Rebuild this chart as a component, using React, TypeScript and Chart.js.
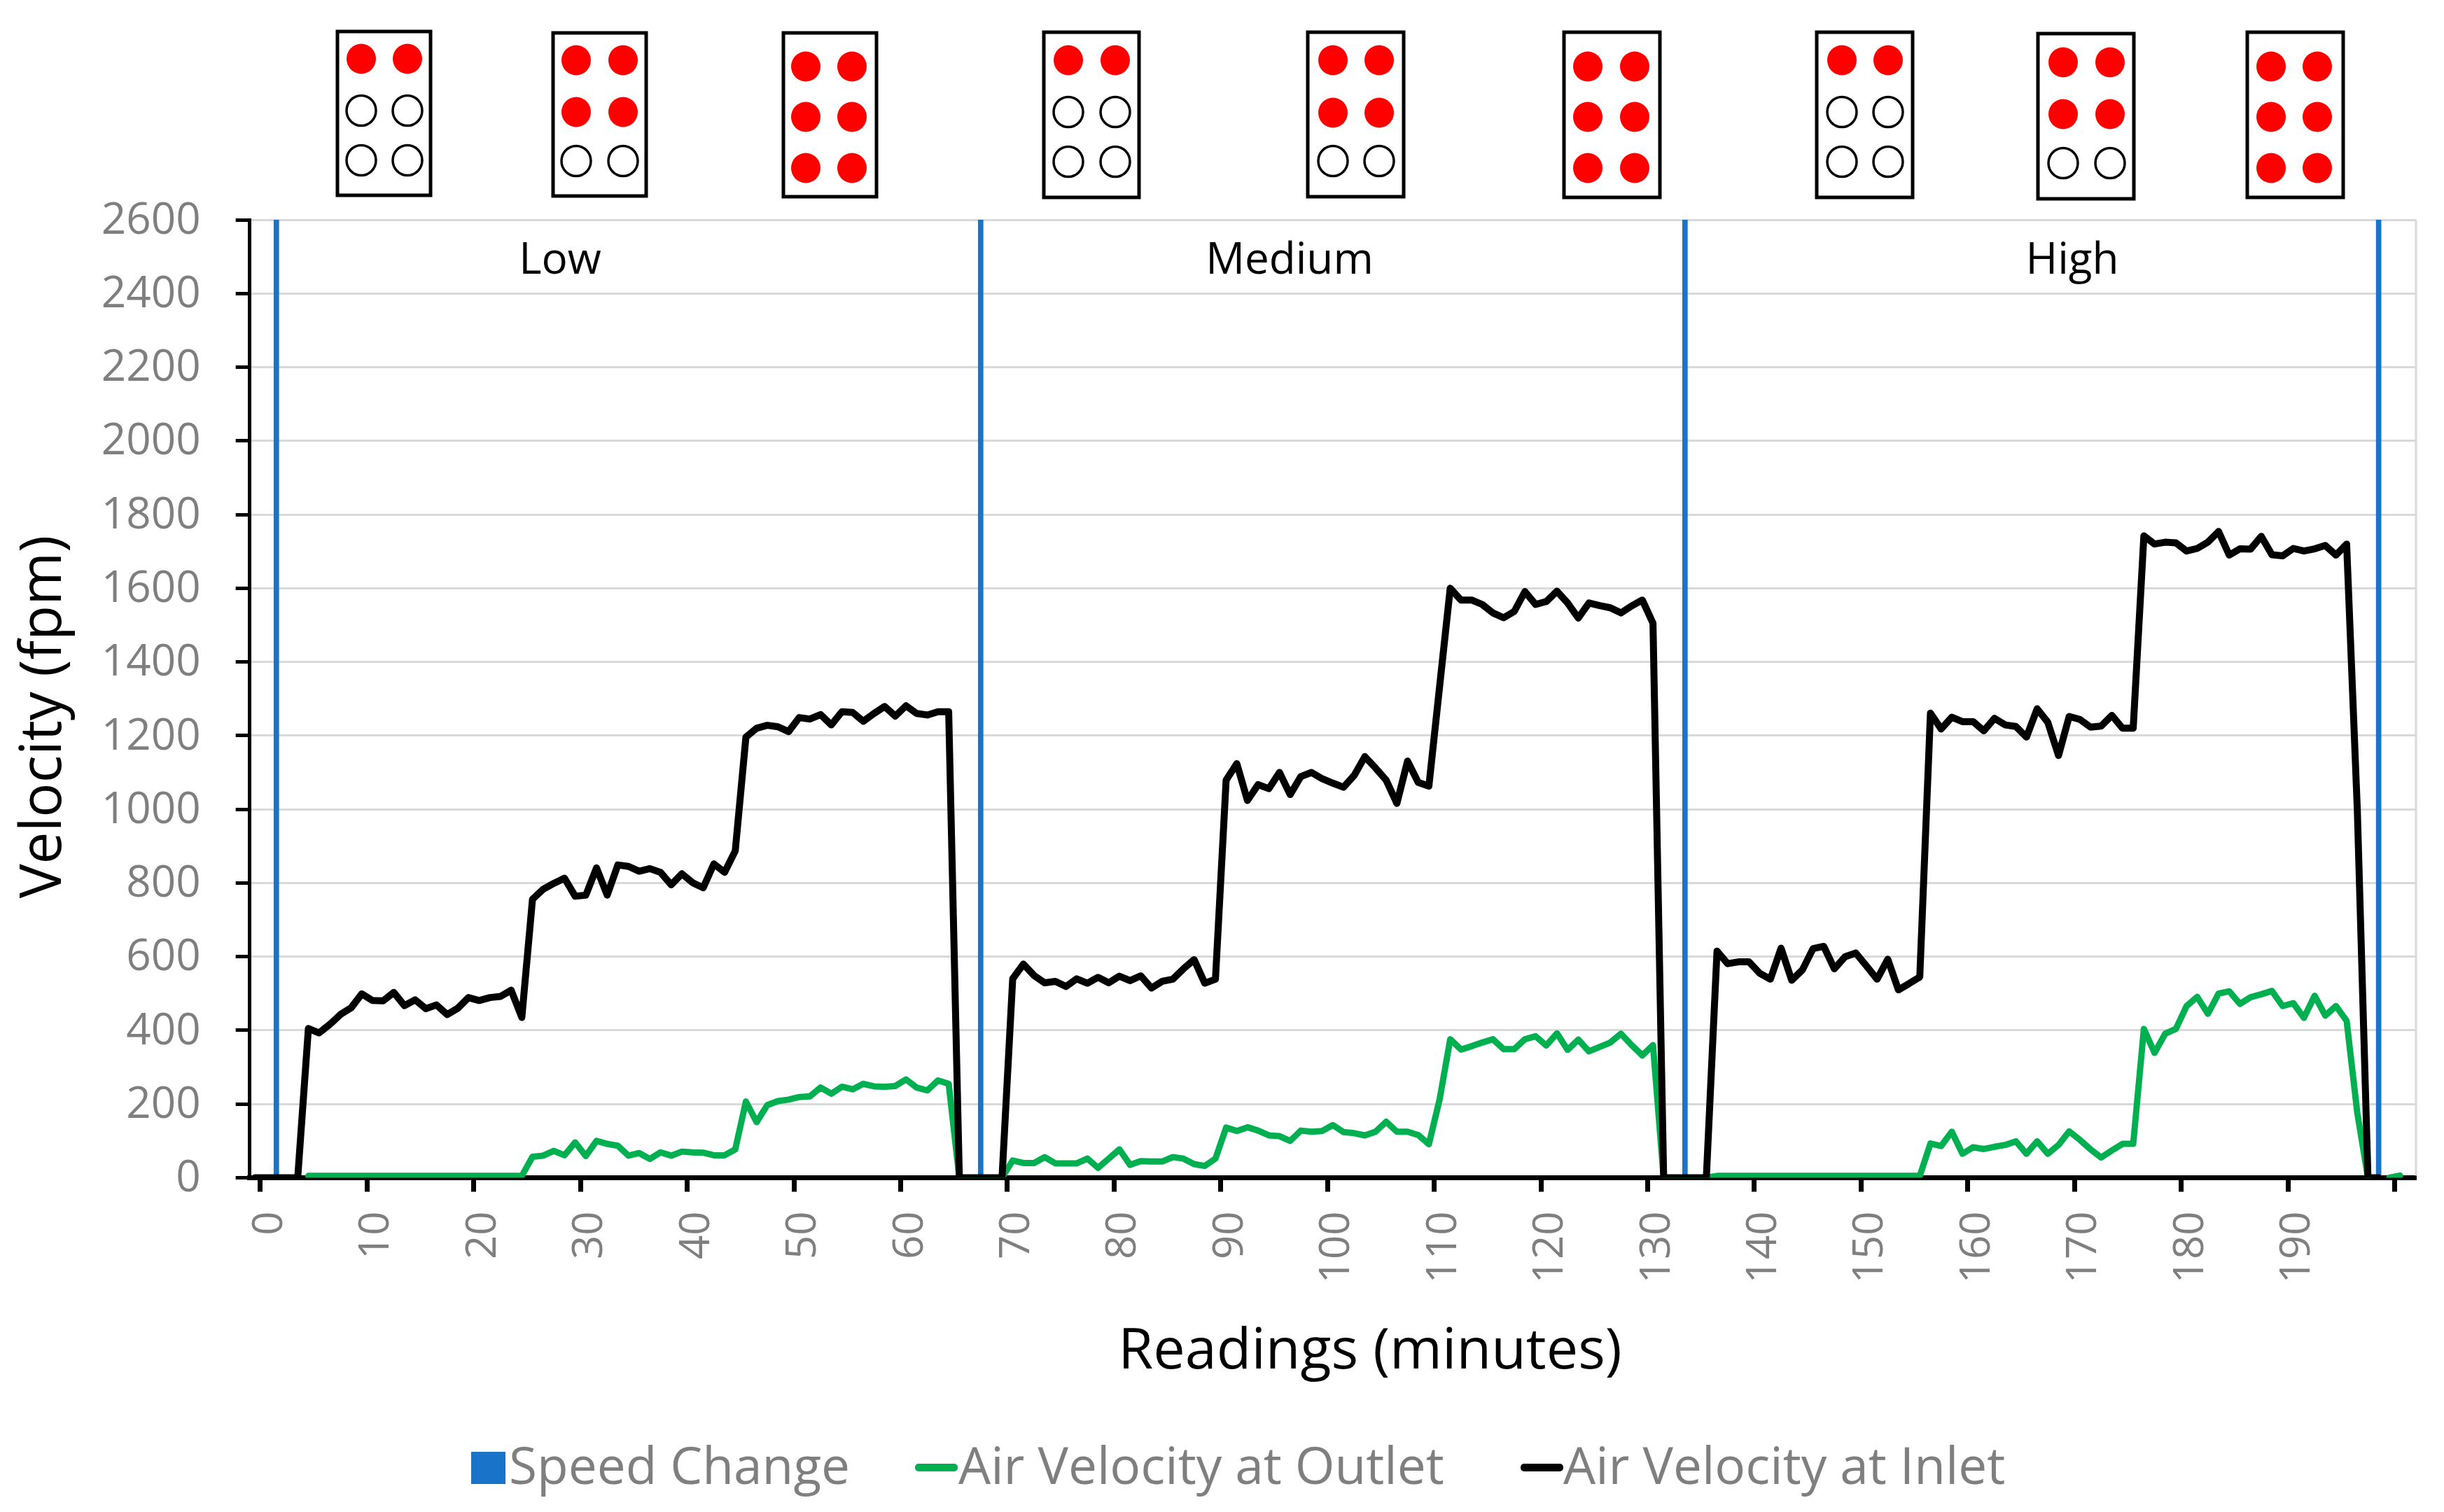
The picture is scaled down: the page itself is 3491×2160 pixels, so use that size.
import { Chart, registerables } from "chart.js";
import { useEffect, useRef } from "react";

Chart.register(...registerables);

const WIDTH = 3491;
const HEIGHT = 2160;
const FONT = '"Open Sans"';

// the sheet's first row is a blank category in front of reading 0
const firstReading = -1;

const inletLow = [
	405, 393, 416, 443, 461, 499, 481, 480, 503, 467, 483, 459, 469, 443, 460, 489, 481, 489, 492, 509, 435,
	756, 783, 799, 813, 764, 767, 841, 767, 849, 845, 832, 839, 829, 795, 825, 801, 787, 852, 829, 887,
	1196, 1220, 1228, 1224, 1211, 1249, 1245, 1257, 1229, 1265, 1263, 1239, 1260, 1279, 1253, 1281, 1260, 1256, 1265, 1265,
];
const inletMedium = [
	540, 580, 549, 529, 533, 519, 540, 528, 544, 529, 547, 535, 548, 515, 533, 539, 567, 592, 528, 539,
	1079, 1124, 1024, 1067, 1056, 1100, 1040, 1089, 1100, 1083, 1071, 1060, 1092, 1143, 1112, 1079, 1016, 1131, 1073, 1063,
	1332, 1600, 1568, 1568, 1556, 1533, 1520, 1537, 1591, 1556, 1564, 1592, 1560, 1519, 1560, 1553, 1547, 1533, 1552, 1568, 1505,
];
const inletHigh = [
	615, 581, 586, 586, 555, 539, 623, 536, 564, 622, 628, 567, 600, 610, 575, 539, 593, 510, 527, 545,
	1261, 1218, 1250, 1238, 1238, 1213, 1247, 1229, 1225, 1196, 1273, 1236, 1146, 1252, 1244, 1223, 1226, 1255, 1220, 1220,
	1742, 1720, 1725, 1723, 1701, 1708, 1725, 1754, 1690, 1707, 1706, 1741, 1691, 1688, 1708, 1701, 1707, 1716, 1690, 1720, 1000,
];
const outletLow = [
	5, 5, 5, 5, 5, 5, 5, 5, 5, 5, 5, 5, 5, 5, 5, 5, 5, 5, 5, 5, 5,
	57, 60, 73, 61, 96, 59, 100, 92, 87, 60, 67, 51, 69, 60, 71, 69, 68, 61, 61, 77,
	207, 151, 197, 208, 212, 219, 221, 245, 228, 247, 240, 255, 248, 247, 249, 267, 245, 237, 264, 255,
];
const outletMedium = [
	47, 40, 40, 56, 39, 39, 39, 52, 27, 52, 77, 35, 45, 44, 44, 56, 52, 37, 32, 52,
	136, 127, 137, 128, 115, 113, 100, 128, 125, 127, 143, 124, 121, 115, 125, 152, 125, 125, 116, 91,
	212, 376, 348, 357, 367, 376, 349, 349, 376, 384, 359, 392, 347, 375, 343, 355, 367, 391, 360, 332, 360,
];
const outletHigh = [
	5, 5, 5, 5, 5, 5, 5, 5, 5, 5, 5, 5, 5, 5, 5, 5, 5, 5, 5, 5,
	93, 86, 125, 65, 83, 78, 84, 89, 99, 65, 99, 65, 89, 126, 103, 77, 55, 74, 92, 92,
	404, 339, 391, 404, 466, 491, 445, 500, 506, 472, 490, 498, 507, 466, 474, 434, 494, 440, 466, 426, 176,
];

const inlet = [
	0, 0, 0, 0, 0, ...inletLow,
	0, 0, 0, 0, 0, ...inletMedium,
	0, 0, 0, 0, 0, ...inletHigh,
	0, 0,
];
const outlet = [
	null, null, null, null, null, ...outletLow,
	0, 0, 0, 0, 0, ...outletMedium,
	0, 0, 0, 0, 0, ...outletHigh,
	0, null, 0, 6,
];

const speedChangeReadings = [1, 67, 133, 198];
const speedChangeLevel = 2600;

const seriesNames = ["Speed Change", "Air Velocity at Outlet", "Air Velocity at Inlet"];
const regionNames = ["Low", "Medium", "High"];
// how many of the three rows are lit in each of the nine diagrams
const litRows = [1, 2, 3, 1, 2, 3, 1, 2, 3];

const BLUE = "#1873c9";
const GREEN = "#00b050";
const BLACK = "#000000";
const GRAY = "#7f7f7f";

// drawing layout of the things Chart.js has no element for, in canvas pixels
const panels = [
	{ left: 482, right: 615, top: 45, bottom: 279, dots: [516, 582], rows: [84, 158, 229] },
	{ left: 790, right: 923, top: 47, bottom: 280, dots: [823, 890], rows: [86, 160, 230] },
	{ left: 1119, right: 1252, top: 47, bottom: 281, dots: [1151, 1217], rows: [95, 167, 240] },
	{ left: 1491, right: 1627, top: 46, bottom: 282, dots: [1526, 1593], rows: [86, 160, 231] },
	{ left: 1868, right: 2005, top: 46, bottom: 281, dots: [1904, 1970], rows: [86, 161, 230] },
	{ left: 2234, right: 2371, top: 46, bottom: 282, dots: [2268, 2335], rows: [95, 167, 240] },
	{ left: 2595, right: 2732, top: 46, bottom: 282, dots: [2631, 2697], rows: [86, 160, 231] },
	{ left: 2911, right: 3048, top: 48, bottom: 284, dots: [2947, 3014], rows: [89, 163, 233] },
	{ left: 3210, right: 3347, top: 46, bottom: 282, dots: [3244, 3310], rows: [95, 167, 240] },
];
const regionX = [800, 1842, 2960];
const legendItems = [
	{ box: 673, boxEnd: 722, text: 727, line: false },
	{ box: 1307, boxEnd: 1368, text: 1369, line: true },
	{ box: 2172, boxEnd: 2233, text: 2233, line: true },
];

function drawText(ctx, text, x, y, size, color, align = "center") {
	ctx.font = `${size}px ${FONT}`;
	ctx.fillStyle = color;
	ctx.textAlign = align;
	ctx.textBaseline = "alphabetic";
	ctx.fillText(text, x, y);
}

const overlayPlugin = {
	id: "overlay",
	afterDraw(chart) {
		const { ctx, chartArea, data } = chart;
		ctx.save();

		// right edge of the plot frame
		ctx.strokeStyle = "#d9d9d9";
		ctx.lineWidth = 3;
		ctx.beginPath();
		ctx.moveTo(chartArea.right, chartArea.top);
		ctx.lineTo(chartArea.right, chartArea.bottom - 3);
		ctx.stroke();

		// fan diagrams above the plot
		panels.forEach((p, i) => {
			ctx.strokeStyle = BLACK;
			ctx.lineWidth = 5;
			ctx.strokeRect(p.left, p.top, p.right - p.left, p.bottom - p.top);
			p.rows.forEach((y, row) => {
				p.dots.forEach((x) => {
					ctx.beginPath();
					ctx.ellipse(x, y, 21, 21.5, 0, 0, Math.PI * 2);
					if (row < litRows[i]) {
						ctx.fillStyle = "#ff0000";
						ctx.fill();
					} else {
						ctx.lineWidth = 3.5;
						ctx.stroke();
					}
				});
			});
		});

		regionNames.forEach((name, i) => {
			drawText(ctx, name, regionX[i], 391, 62, BLACK);
		});

		// axis titles
		drawText(ctx, "Readings (minutes)", 1957, 1955, 81, BLACK);
		ctx.save();
		ctx.translate(87, 1024);
		ctx.rotate(-Math.PI / 2);
		drawText(ctx, "Velocity (fpm)", 0, 0, 82, BLACK);
		ctx.restore();

		// legend
		legendItems.forEach((item, i) => {
			const dataset = data.datasets.find((d) => d.label === seriesNames[i]);
			ctx.fillStyle = dataset.borderColor;
			if (item.line) {
				ctx.beginPath();
				ctx.roundRect(item.box, 2091, item.boxEnd - item.box, 11, 5);
				ctx.fill();
			} else {
				ctx.fillRect(item.box, 2074, item.boxEnd - item.box, 46);
			}
			drawText(ctx, seriesNames[i], item.text, 2120, 73, GRAY, "left");
		});

		ctx.restore();
	},
};

const App = () => {
	const canvasRef = useRef<HTMLCanvasElement>(null);

	useEffect(() => {
		if (!canvasRef.current) return;

		const toPoints = (values) =>
			values.map((y, i) => ({ x: firstReading + i + 0.5, y }));

		const chart = new Chart(canvasRef.current, {
			type: "line",
			data: {
				datasets: [
					{
						label: seriesNames[2],
						data: toPoints(inlet),
						borderColor: BLACK,
						backgroundColor: BLACK,
						borderWidth: 10,
						pointRadius: 0,
						borderJoinStyle: "round",
						borderCapStyle: "round",
						order: 1,
					},
					{
						label: seriesNames[1],
						data: toPoints(outlet),
						borderColor: GREEN,
						backgroundColor: GREEN,
						borderWidth: 9,
						pointRadius: 0,
						borderJoinStyle: "round",
						borderCapStyle: "round",
						order: 2,
					},
					{
						type: "bar",
						label: seriesNames[0],
						data: speedChangeReadings.map((r) => ({ x: r + 0.5, y: speedChangeLevel })),
						borderColor: BLUE,
						backgroundColor: BLUE,
						barThickness: 7,
						order: 3,
					},
				],
			},
			options: {
				responsive: false,
				animation: false,
				layout: { padding: { left: 0, top: 314, right: 40, bottom: 277.5 } },
				plugins: {
					legend: { display: false },
					tooltip: { enabled: false },
				},
				scales: {
					x: {
						type: "linear",
						min: -1,
						max: 202,
						offset: false,
						grid: {
							offset: false,
							drawOnChartArea: false,
							tickColor: BLACK,
							tickWidth: 7,
							tickLength: 20,
						},
						border: { color: BLACK, width: 7 },
						ticks: {
							stepSize: 10,
							includeBounds: false,
							autoSkip: false,
							minRotation: 90,
							maxRotation: 90,
							padding: 28,
							labelOffset: 14,
							color: GRAY,
							font: { family: FONT, size: 60 },
							callback: (v) => (v >= 200 ? "" : String(v)),
						},
						afterFit: (scale) => {
							scale.height = 200;
							// rotated labels must not pull in the plot's sides
							scale.paddingLeft = 0;
							scale.paddingRight = 0;
						},
					},
					y: {
						min: 0,
						max: 2600,
						grid: {
							color: "#d9d9d9",
							lineWidth: 3,
							tickColor: BLACK,
							tickWidth: 5,
							tickLength: 20,
						},
						border: { color: BLACK, width: 5 },
						ticks: {
							stepSize: 200,
							padding: 50,
							labelOffset: 2,
							color: GRAY,
							font: { family: FONT, size: 62 },
							callback: (v) => String(v),
						},
						afterFit: (scale) => {
							scale.width = 356.66;
						},
					},
				},
			},
			plugins: [overlayPlugin],
		});

		return () => {
			chart.destroy();
		};
	}, []);

	return (
		<div style={{ position: "fixed", left: 0, top: 0, width: WIDTH, height: HEIGHT, background: "#ffffff" }}>
			<canvas ref={canvasRef} width={WIDTH} height={HEIGHT} style={{ display: "block" }} />
		</div>
	);
};

export default App;
